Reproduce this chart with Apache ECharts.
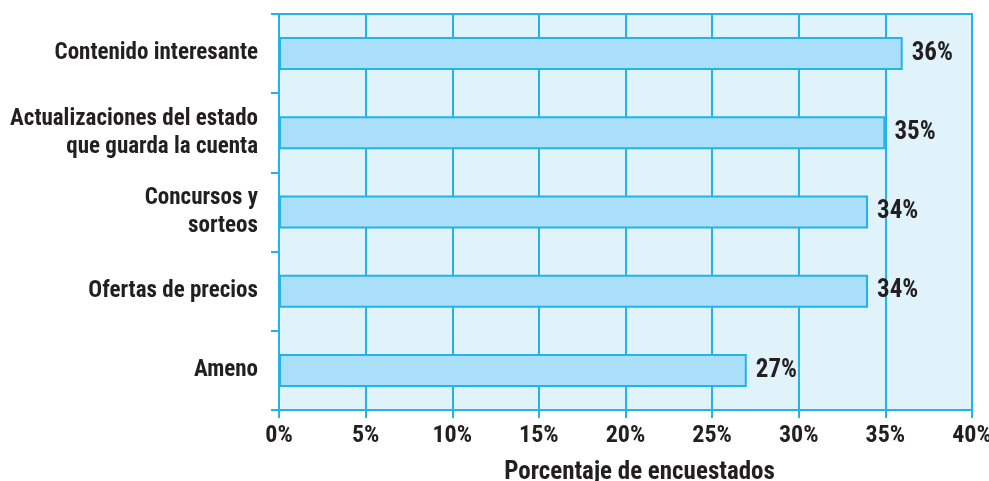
<!DOCTYPE html>
<html><head><meta charset="utf-8">
<script src="https://cdn.jsdelivr.net/npm/echarts@6/dist/echarts.min.js"></script>
<style>html,body{margin:0;padding:0;background:#fff}#c{width:989px;height:481px}</style>
</head><body><div id="c"></div>
<script>
const categories = ["Contenido interesante", "Actualizaciones del estado\nque guarda la cuenta", "Concursos y\nsorteos", "Ofertas de precios", "Ameno"];
const values = [36, 35, 34, 34, 27];
const xTicks = [0, 5, 10, 15, 20, 25, 30, 35, 40];
const xName = "Porcentaje de encuestados";

const LINE = '#22b4e9';
const INK = '#231f20';
const FONT = '"Roboto Condensed", "Liberation Sans", Arial, sans-serif';
const chart = echarts.init(document.getElementById('c'));
chart.setOption({
  animation: false,
  grid: { left: 279, right: 17, top: 14, bottom: 71, outerBoundsMode: 'none', containLabel: false,
          show: true, backgroundColor: '#e0f3fa', borderColor: LINE, borderWidth: 2 },
  xAxis: {
    type: 'value', min: xTicks[0], max: xTicks[xTicks.length - 1], interval: 5,
    axisLine: { show: true, lineStyle: { color: LINE, width: 2 } },
    axisTick: { show: true, length: 8, lineStyle: { color: LINE, width: 2 } },
    splitLine: { show: true, lineStyle: { color: LINE, width: 2 } },
    axisLabel: { formatter: '{value}%', color: INK, fontFamily: FONT, fontWeight: 'bold', fontSize: 24, margin: 14 },
    name: xName, nameLocation: 'middle', nameGap: 50,
    nameTextStyle: { color: INK, fontFamily: FONT, fontWeight: 'bold', fontSize: 25, padding: [0, 0, 0, 28] }
  },
  yAxis: {
    type: 'category', data: categories, inverse: true,
    axisLine: { show: true, lineStyle: { color: LINE, width: 2 } },
    axisTick: { show: true, length: 8, lineStyle: { color: LINE, width: 2 } },
    splitLine: { show: false },
    axisLabel: { color: INK, fontFamily: FONT, fontWeight: 'bold', fontSize: 23, margin: 21, lineHeight: 28, align: 'right' }
  },
  series: [{
    type: 'bar', data: values, barWidth: 33,
    itemStyle: { color: '#a9dff9', borderColor: LINE, borderWidth: 2 },
    label: { show: true, position: 'right', distance: 9, formatter: '{c}%', color: INK, fontFamily: FONT, fontWeight: 'bold', fontSize: 25 }
  }]
});
</script></body></html>
